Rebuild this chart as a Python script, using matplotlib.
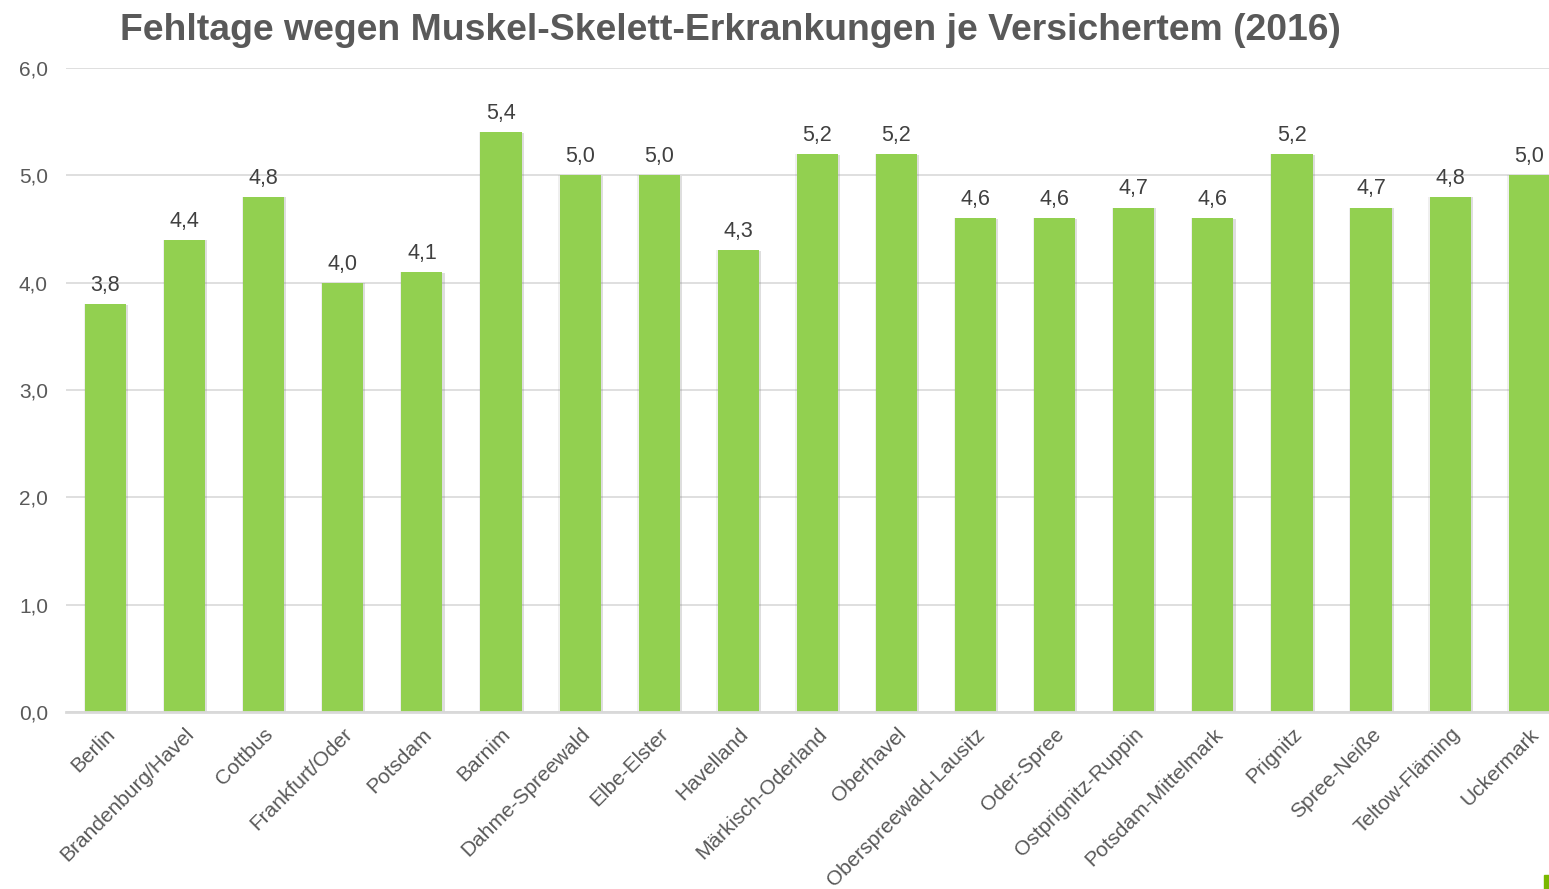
import numpy as np
import matplotlib.pyplot as plt
import matplotlib.patheffects as pe
from matplotlib.patches import Rectangle

# Fehltage je Versichertem nach Kreis / kreisfreier Stadt
regions = ["Berlin", "Brandenburg/Havel", "Cottbus", "Frankfurt/Oder", "Potsdam",
           "Barnim", "Dahme-Spreewald", "Elbe-Elster", "Havelland", "Märkisch-Oderland",
           "Oberhavel", "Oberspreewald-Lausitz", "Oder-Spree", "Ostprignitz-Ruppin",
           "Potsdam-Mittelmark", "Prignitz", "Spree-Neiße", "Teltow-Fläming", "Uckermark"]
days = [3.8, 4.4, 4.8, 4.0, 4.1, 5.4, 5.0, 5.0, 4.3, 5.2,
        5.2, 4.6, 4.6, 4.7, 4.6, 5.2, 4.7, 4.8, 5.0]
yticks = [0, 1, 2, 3, 4, 5, 6]

bar_color = "#92d050"
text_color = "#595959"
grid_color = "#d9d9d9"

plt.rcParams['font.family'] = ['Liberation Sans', 'DejaVu Sans']

fig = plt.figure(figsize=(15.49, 8.89), dpi=100)
ax = fig.add_axes([66 / 1549, 177 / 889, 1 - 66 / 1549, (712 - 68) / 889])

x = np.arange(len(regions))
bars = ax.bar(x, days, width=0.52, color=bar_color, zorder=3)
for b in bars:
    # soft grey shadow round the bars, as in the original
    b.set_path_effects([pe.SimplePatchShadow(offset=(1.5, -0.5), shadow_rgbFace="#7f7f7f", alpha=0.25),
                        pe.SimplePatchShadow(offset=(-1.0, 0), shadow_rgbFace="#7f7f7f", alpha=0.12),
                        pe.Normal()])

for xi, v in zip(x, days):
    ax.text(xi, v + 0.075, f"{v:.1f}".replace(".", ","), ha="center", va="bottom",
            fontsize=15.5, color="#404040")

ax.set_ylim(0, 6)
ax.set_xlim(-0.5, 18.25)
ax.set_yticks(yticks)
ax.set_yticklabels([f"{t:.1f}".replace(".", ",") for t in yticks], fontsize=15, color=text_color)
ax.set_xticks(x)
ax.set_xticklabels(regions, rotation=45, ha="right", va="top", rotation_mode="anchor",
                   fontsize=15, color=text_color)
ax.tick_params(axis="both", length=0)
ax.tick_params(axis="y", pad=13)
ax.tick_params(axis="x", pad=9)

ax.yaxis.grid(True, color=grid_color, linewidth=1.2, zorder=0)
for s in ["top", "right", "left"]:
    ax.spines[s].set_visible(False)
ax.spines["bottom"].set_color(grid_color)
ax.spines["bottom"].set_linewidth(2)
ax.spines["bottom"].set_zorder(4)

fig.text(0.4713, 0.966, "Fehltage wegen Muskel-Skelett-Erkrankungen je Versichertem (2016)",
         ha="center", va="center", fontsize=26.9, fontweight="bold", color=text_color)

# small green marker in the lower right corner
fig.patches.append(Rectangle((1544 / 1549, 0), 5 / 1549, 14 / 889, transform=fig.transFigure,
                             color="#7ab800", zorder=5))

fig.savefig("out.png", dpi=100)
